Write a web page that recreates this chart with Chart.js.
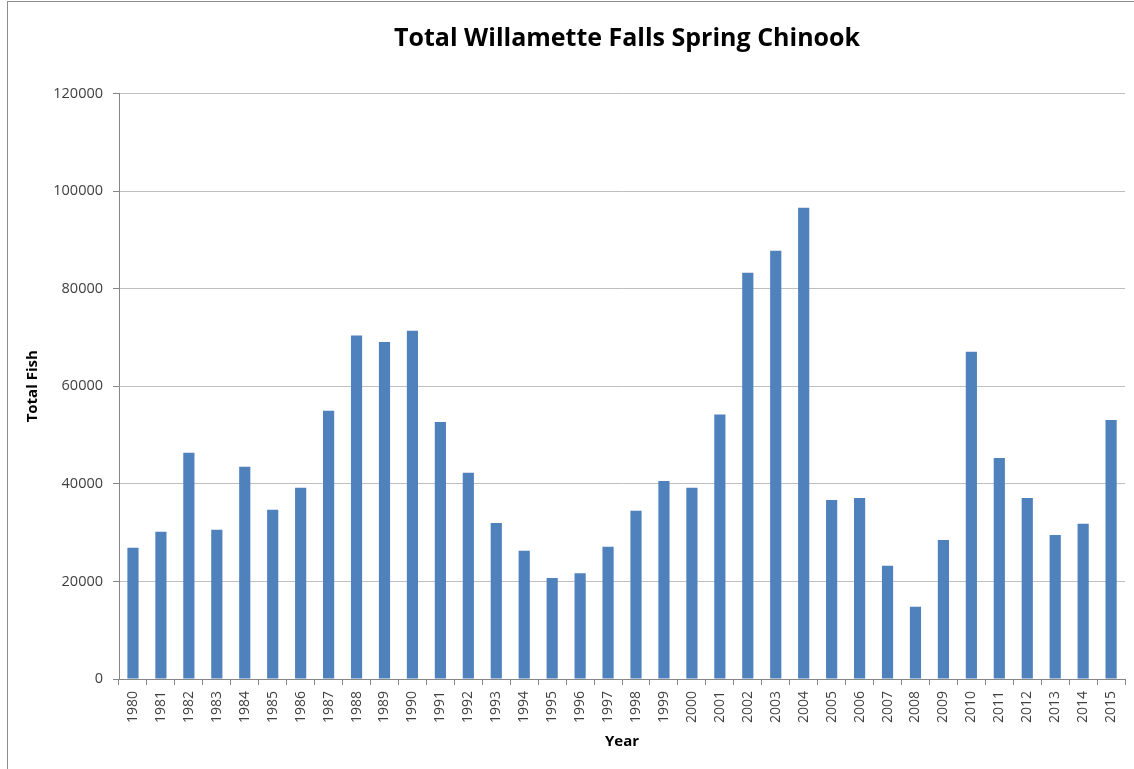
<!DOCTYPE html>
<html>
<head>
<meta charset="utf-8">
<script src="https://cdn.jsdelivr.net/npm/chart.js@4.4.0/dist/chart.umd.min.js"></script>
<style>
  html, body { margin: 0; padding: 0; background: #fff; overflow: hidden; }
  #frame { position: absolute; left: 7px; top: 1px; width: 1140px; height: 780px;
           border: 1px solid #8c8c8c; box-sizing: border-box; }
  #wrap { position: absolute; left: 0; top: 0; width: 1134px; height: 769px; }
</style>
</head>
<body>
<div id="frame"></div>
<div id="wrap"><canvas id="chart" width="1134" height="769"></canvas></div>
<script>
// data
const years = ["1980","1981","1982","1983","1984","1985","1986","1987","1988","1989",
  "1990","1991","1992","1993","1994","1995","1996","1997","1998","1999",
  "2000","2001","2002","2003","2004","2005","2006","2007","2008","2009",
  "2010","2011","2012","2013","2014","2015"];
const totalFish = [26900, 30200, 46400, 30600, 43500, 34700, 39200, 55000, 70400, 69100,
  71400, 52700, 42300, 32000, 26300, 20700, 21700, 27100, 34500, 40600,
  39200, 54200, 83300, 87800, 96600, 36700, 37100, 23200, 14800, 28500,
  67100, 45300, 37100, 29500, 31800, 53100];
const yTicks = [0, 20000, 40000, 60000, 80000, 100000, 120000];
const chartTitle = "Total Willamette Falls Spring Chinook";

const font = "'Open Sans', 'Liberation Sans', sans-serif";

// title centred over the plot area instead of the whole canvas
const plotTitle = {
  id: "plotTitle",
  afterDraw(chart) {
    const { ctx, chartArea } = chart;
    ctx.save();
    ctx.font = "bold 25px " + font;
    ctx.fillStyle = "#000";
    ctx.textAlign = "center";
    ctx.textBaseline = "alphabetic";
    ctx.fillText(chartTitle, (chartArea.left + chartArea.right) / 2 + 5, 46);
    ctx.restore();
  }
};

new Chart(document.getElementById("chart"), {
  type: "bar",
  plugins: [plotTitle],
  data: {
    labels: years,
    datasets: [{
      label: "Total Fish",
      data: totalFish,
      backgroundColor: "#4f81bd",
      barPercentage: 0.4,
      categoryPercentage: 1
    }]
  },
  options: {
    responsive: false,
    animation: false,
    layout: { padding: { left: 0, right: 7, top: 0, bottom: 0 } },
    plugins: {
      legend: { display: false },
      tooltip: { enabled: false },
      // keeps the room above the plot; the text itself is drawn by plotTitle
      title: {
        display: true,
        text: chartTitle,
        color: "rgba(0,0,0,0)",
        font: { family: font, size: 23, weight: "bold" },
        padding: { top: 26, bottom: 40 }
      }
    },
    scales: {
      x: {
        afterFit: s => { s.height = 90; },
        grid: { display: true, drawOnChartArea: false, drawTicks: true, tickLength: 6,
                color: "#868686", offset: true },
        border: { color: "#868686" },
        ticks: { minRotation: 90, maxRotation: 90, autoSkip: false, padding: 6,
                 color: "#404040", font: { family: font, size: 14 } },
        title: { display: true, text: "Year", color: "#000",
                 font: { family: font, size: 15, weight: "bold" },
                 padding: { top: 0, bottom: 18 } }
      },
      y: {
        min: 0, max: 120000,
        afterFit: s => { s.width = 119; },
        afterBuildTicks: s => { s.ticks = yTicks.map(v => ({ value: v })); },
        grid: { color: "#bfbfbf", tickColor: "#868686", tickLength: 6, lineWidth: 1 },
        border: { color: "#868686" },
        ticks: { padding: 10, color: "#404040", font: { family: font, size: 14.5 },
                 callback: v => String(v) },
        title: { display: true, text: "Total Fish", color: "#000",
                 font: { family: font, size: 15, weight: "bold" },
                 padding: { top: 24, bottom: 0 } }
      }
    }
  }
});
</script>
</body>
</html>
